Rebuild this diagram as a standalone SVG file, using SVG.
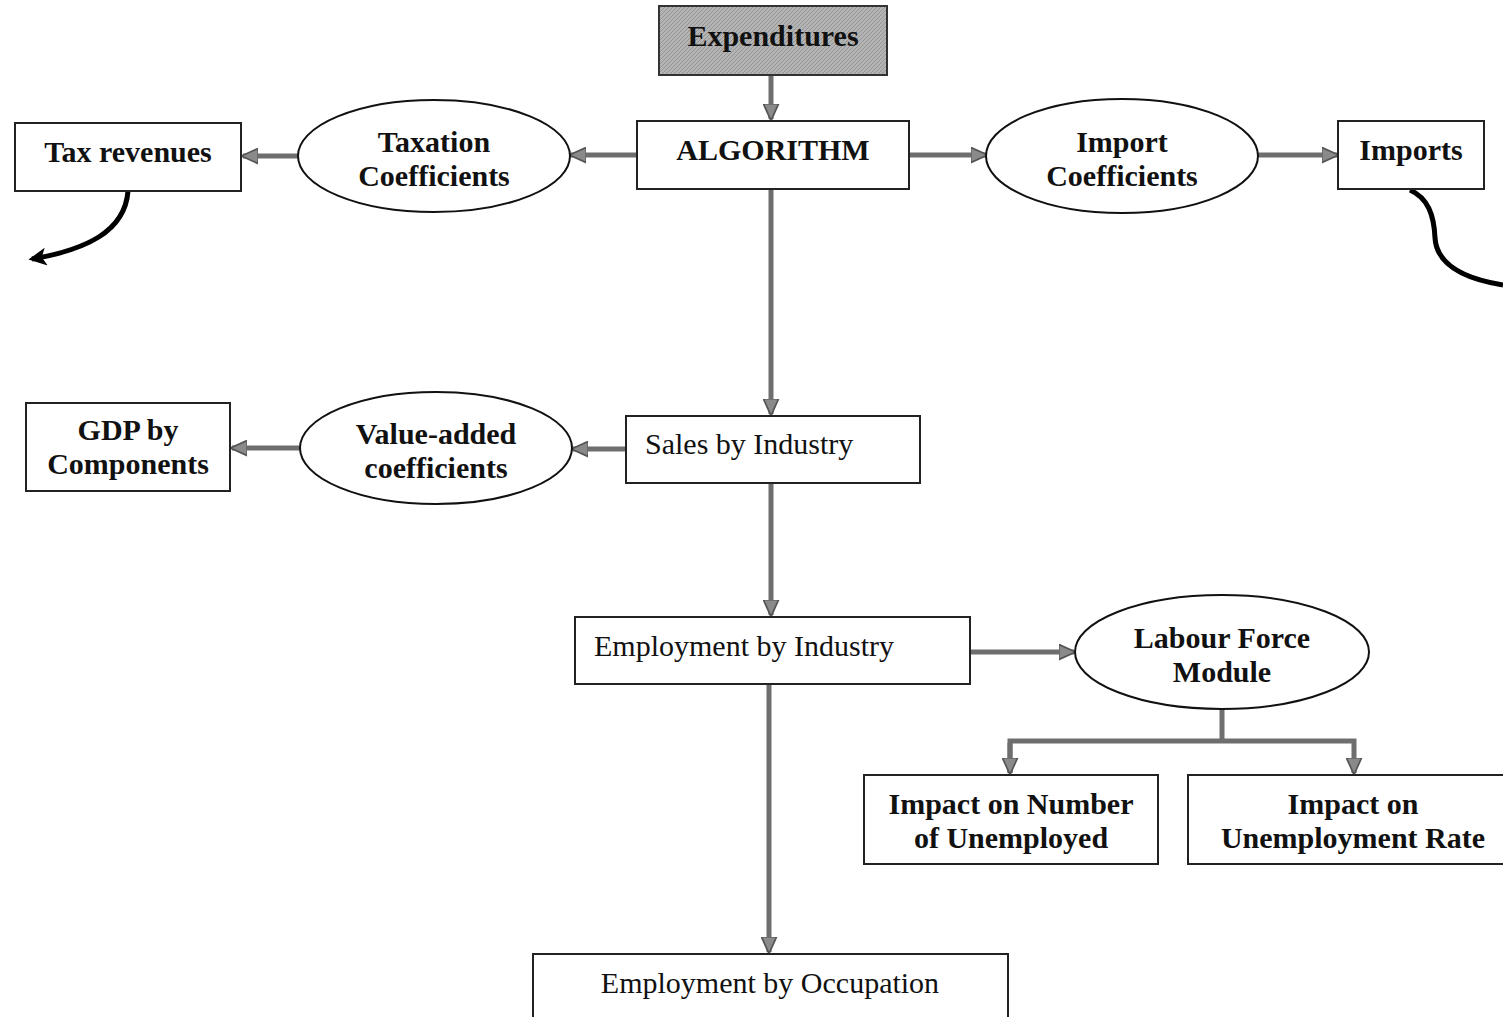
<svg xmlns="http://www.w3.org/2000/svg" width="1503" height="1017" viewBox="0 0 1503 1017">
<style>
.box{fill:#fff;stroke:#222;stroke-width:2}
.ell{fill:#fff;stroke:#111;stroke-width:2}
.b{font-family:"Liberation Serif","Times New Roman",serif;font-weight:bold;font-size:30px;fill:#111;text-anchor:middle}
.r{font-family:"Liberation Serif","Times New Roman",serif;font-size:30px;fill:#111}
.g{fill:none;stroke:#6e6e6e;stroke-width:5}
.k{fill:none;stroke:#000;stroke-width:5}
</style>
<defs>
<marker id="ga" viewBox="0 0 10 10" refX="9" refY="5" markerWidth="3.4" markerHeight="3.4" orient="auto" markerUnits="strokeWidth">
<path d="M0,0.5 L10,5 L0,9.5 Z" fill="#8a8a8a" stroke="#555" stroke-width="1"/>
</marker>
<marker id="ka" viewBox="0 0 10 10" refX="8" refY="5" markerWidth="3.6" markerHeight="3.6" orient="auto" markerUnits="strokeWidth">
<path d="M0,0 L10,5 L0,10 L2.5,5 Z" fill="#000"/>
</marker>
<pattern id="hatch" width="4" height="4" patternUnits="userSpaceOnUse">
<rect width="4" height="4" fill="#b4b4b4"/>
<path d="M0,4 L4,0" stroke="#8c8c8c" stroke-width="0.8"/>
</pattern>
</defs>

<g id="connectors">
<path class="g" d="M771,75 L771,119" marker-end="url(#ga)"/>
<path class="g" d="M637,155 L571,155" marker-end="url(#ga)"/>
<path class="g" d="M298,156 L243,156" marker-end="url(#ga)"/>
<path class="g" d="M909,155 L986,155" marker-end="url(#ga)"/>
<path class="g" d="M1258,155 L1337,155" marker-end="url(#ga)"/>
<path class="k" d="M128,191 C125,232 85,250 32,259" marker-end="url(#ka)"/>
<path class="k" d="M1410,190 C1428,198 1434,215 1435,238 C1437,268 1472,280 1503,285"/>
<path class="g" d="M771,190 L771,414" marker-end="url(#ga)"/>
<path class="g" d="M626,449 L573,449" marker-end="url(#ga)"/>
<path class="g" d="M300,448 L232,448" marker-end="url(#ga)"/>
<path class="g" d="M771,483 L771,615" marker-end="url(#ga)"/>
<path class="g" d="M970,652 L1074,652" marker-end="url(#ga)"/>
<path class="g" d="M1222,709 L1222,741"/>
<path class="g" d="M1010,773 L1010,741 L1354,741 L1354,773" marker-end="url(#ga)"/>
<path class="g" d="M1010,743 L1010,773" marker-end="url(#ga)"/>
<path class="g" d="M769,684 L769,952" marker-end="url(#ga)"/>
</g>

<g id="expenditures">
<rect x="659" y="6" width="228" height="69" fill="url(#hatch)" stroke="#333" stroke-width="2"/>
<text class="b" x="773" y="46">Expenditures</text>
</g>
<g id="algorithm">
<rect class="box" x="637" y="121" width="272" height="68"/>
<text class="b" x="773" y="160">ALGORITHM</text>
</g>
<g id="taxation-coefficients">
<ellipse class="ell" cx="434" cy="156" rx="136" ry="56"/>
<text class="b" x="434" y="152">Taxation</text>
<text class="b" x="434" y="186">Coefficients</text>
</g>
<g id="tax-revenues">
<rect class="box" x="15" y="123" width="226" height="68"/>
<text class="b" x="128" y="162">Tax revenues</text>
</g>
<g id="import-coefficients">
<ellipse class="ell" cx="1122" cy="156" rx="136" ry="57"/>
<text class="b" x="1122" y="152">Import</text>
<text class="b" x="1122" y="186">Coefficients</text>
</g>
<g id="imports">
<rect class="box" x="1338" y="121" width="146" height="68"/>
<text class="b" x="1411" y="160">Imports</text>
</g>
<g id="sales-by-industry">
<rect class="box" x="626" y="416" width="294" height="67"/>
<text class="r" x="645" y="454">Sales by Industry</text>
</g>
<g id="value-added-coefficients">
<ellipse class="ell" cx="436" cy="448" rx="136" ry="56"/>
<text class="b" x="436" y="444">Value-added</text>
<text class="b" x="436" y="478">coefficients</text>
</g>
<g id="gdp-by-components">
<rect class="box" x="26" y="403" width="204" height="88"/>
<text class="b" x="128" y="440">GDP by</text>
<text class="b" x="128" y="474">Components</text>
</g>
<g id="employment-by-industry">
<rect class="box" x="575" y="617" width="395" height="67"/>
<text class="r" x="594" y="656">Employment by Industry</text>
</g>
<g id="labour-force-module">
<ellipse class="ell" cx="1222" cy="652" rx="147" ry="57"/>
<text class="b" x="1222" y="648">Labour Force</text>
<text class="b" x="1222" y="682">Module</text>
</g>
<g id="impact-number">
<rect class="box" x="864" y="775" width="294" height="89"/>
<text class="b" x="1011" y="814">Impact on Number</text>
<text class="b" x="1011" y="848">of Unemployed</text>
</g>
<g id="impact-rate">
<rect class="box" x="1188" y="775" width="320" height="89"/>
<text class="b" x="1353" y="814">Impact on</text>
<text class="b" x="1353" y="848">Unemployment Rate</text>
</g>
<g id="employment-by-occupation">
<rect class="box" x="533" y="954" width="475" height="70"/>
<text class="r" x="770" y="993" text-anchor="middle">Employment by Occupation</text>
</g>
</svg>
